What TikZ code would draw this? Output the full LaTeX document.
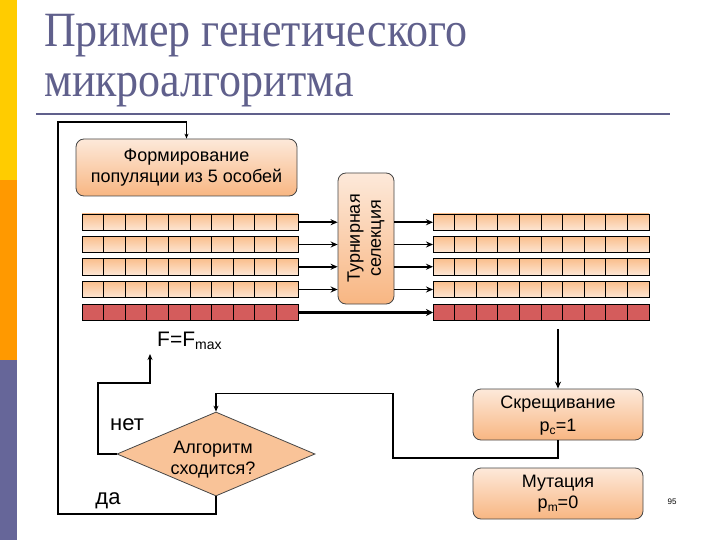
\documentclass[tikz,border=0pt]{standalone}
\usepackage{fontspec}
\setmainfont{Liberation Serif}
\newfontfamily\arialf{Liberation Sans}
\usetikzlibrary{shapes.geometric,arrows.meta}
\definecolor{titleC}{RGB}{96,96,140}
\definecolor{stripeY}{RGB}{255,204,0}
\definecolor{stripeO}{RGB}{255,153,0}
\definecolor{stripeP}{RGB}{102,102,153}
\definecolor{peachL}{RGB}{253,233,218}
\definecolor{peachD}{RGB}{248,182,130}
\definecolor{cellT}{RGB}{250,190,140}
\definecolor{cellB}{RGB}{253,230,212}
\definecolor{redC}{RGB}{212,92,92}
\definecolor{edgeC}{RGB}{70,70,70}
\tikzset{
  box/.style={draw=edgeC, line width=0.8pt, rounded corners=8pt, top color=peachL, bottom color=peachD,
    align=center, inner sep=0pt, font=\arialf\fontsize{18}{21}\selectfont},
  chrom/.style={draw=black, line width=0.9pt, top color=cellT, bottom color=cellB,
    minimum width=216pt, minimum height=16.5pt, inner sep=0pt, outer sep=0pt},
  redchrom/.style={chrom, top color=redC, bottom color=redC},
  conn/.style={line width=1.8pt, -{Stealth[length=7pt,width=6pt]}},
  loopline/.style={line width=1.4pt, draw=black},
  lbl/.style={font=\arialf\fontsize{22}{24}\selectfont, inner sep=0pt},
}
\newcommand{\smallsub}[1]{\raisebox{-3pt}{\fontsize{12}{12}\selectfont #1}}
\newcommand{\tallt}[1]{\scalebox{1}[1.12]{#1}}
\begin{document}
\begin{tikzpicture}
\begin{scope}[x=1pt,y=-1pt]
\useasboundingbox (0,0) rectangle (720,540);
\fill[white] (0,0) rectangle (720,540);
% side stripe
\fill[stripeY] (0,0) rectangle (17,180);
\fill[stripeO] (0,180) rectangle (17,360);
\fill[stripeP] (0,360) rectangle (17,540);
% title
\node[anchor=base west, inner sep=0pt, text=titleC, font=\fontsize{44}{50}\selectfont] (t1) at (44,47) {\tallt{Пример генетического}};
\node[anchor=base west, inner sep=0pt, text=titleC, font=\fontsize{44}{50}\selectfont] (t2) at (44,97) {\tallt{микроалгоритма}};
\draw[titleC, line width=2.5pt] (36,114) -- (670,114);

% boxes
\node[box, minimum width=221pt, minimum height=57pt] (form) at (186.5,167.5) {Формирование\\популяции из 5 особей};
\node[box, rotate=90, minimum width=131pt, minimum height=56pt, font=\arialf\fontsize{18}{21}\selectfont] (sel) at (366,238.5) {Турнирная\\селекция};
\node[box, minimum width=170pt, minimum height=51pt, font=\arialf\fontsize{18}{23}\selectfont, text depth=2pt] (cross) at (558,414.5) {Скрещивание\\p\smallsub{c}=1};
\node[box, minimum width=170pt, minimum height=51pt, font=\arialf\fontsize{18}{21}\selectfont] (mut) at (558,493.5) {Мутация\\p\smallsub{m}=0};
\node[diamond, draw=edgeC, line width=0.8pt, fill=peachD!75!peachL, minimum width=198pt, minimum height=84pt,
  inner sep=0pt, aspect=2.36] (dia) at (216,454) {};
\node[align=center, inner sep=0pt, font=\arialf\fontsize{18}{21}\selectfont] (diatext) at (213,460) {Алгоритм\\сходится?};

% chromosome rows
\foreach \n/\y in {1/222.25,2/244.5,3/266.75,4/289.5}{
  \node[chrom] (L\n) at (190,\y) {};
  \node[chrom] (R\n) at (541,\y) {};
}
\node[redchrom] (L5) at (190,312.5) {};
\node[redchrom] (R5) at (541,312.5) {};
\foreach \r in {L1,L2,L3,L4,L5,R1,R2,R3,R4,R5}{
  \foreach \i in {1,...,9}{
    \draw[black, line width=0.8pt] (\r.north west) ++(\i*21.6,0) -- ++(0,16.5);
  }
}
% selection arrows
\foreach \n in {1,2,3,4}{
  \draw[conn] (L\n.east) -- (sel.north |- L\n.east);
  \draw[conn] (sel.south |- R\n.west) -- (R\n.west);
}
\draw[line width=3pt, -{Stealth[length=7pt,width=7pt]}] (L5.east) -- (R5.west);

% down to crossover
\coordinate (dstart) at (558,329);
\draw[conn] (dstart) -- (cross.north);

% F=Fmax
\node[lbl, anchor=base west, font=\arialf\fontsize{21}{24}\selectfont] (fmax) at (157,346) {F=F\smallsub{\fontsize{14}{14}\selectfont max}};
\coordinate (fmaxTip) at (150,354);
\coordinate (netL) at (98,383);
\draw[line width=1.6pt, -{Stealth[length=6pt,width=5pt]}] (dia.west) -| (netL) -| (fmaxTip);
\node[lbl] (net) at (127,425) {нет};

% crossover back to diamond
\coordinate (c1) at (393,458);
\coordinate (c2) at (393,393.5);
\draw[line width=1.6pt, -{Stealth[length=6pt,width=5pt]}] (cross.south) |- (c1) -- (c2) -| (dia.north);

% yes loop
\coordinate (loopBL) at (58,514);
\coordinate (loopTL) at (58,122);
\draw[loopline, -{Stealth[length=5pt,width=4pt]}] (dia.south) |- (loopBL) -- (loopTL) -| (form.north);
\node[lbl] (da) at (108,501) {да};

% page number
\node[font=\arialf\fontsize{8}{8}\selectfont, inner sep=0pt] (pg) at (672,502) {95};
\end{scope}
\end{tikzpicture}
\end{document}
